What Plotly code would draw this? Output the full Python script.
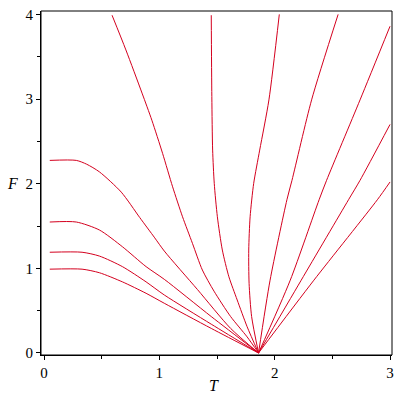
import plotly.graph_objects as go

# Curves (T, F)
A_T = [0.05, 0.28, 0.37, 0.48, 0.67, 0.83, 0.96, 1.043, 1.33, 1.618, 1.86]
A_F = [2.275, 2.275, 2.23, 2.14, 1.90, 1.60, 1.36, 1.204, 0.75, 0.29, 0.0]

B_T = [0.05, 0.28, 0.48, 0.68, 0.885, 1.043, 1.45, 1.86]
B_F = [1.547, 1.547, 1.453, 1.255, 1.02, 0.87, 0.43, 0.0]

C_T = [0.05, 0.33, 0.48, 0.68, 0.885, 1.043, 1.45, 1.86]
C_F = [1.19, 1.19, 1.145, 1.02, 0.84, 0.685, 0.34, 0.0]

D_T = [0.05, 0.33, 0.48, 0.68, 0.885, 1.043, 1.45, 1.86]
D_F = [0.99, 0.99, 0.948, 0.84, 0.705, 0.587, 0.29, 0.0]

E_T = [0.59, 0.71, 0.85, 0.935, 1.028, 1.115, 1.201, 1.287, 1.373, 1.474, 1.618, 1.761, 1.86]
E_F = [3.99, 3.58, 3.07, 2.75, 2.358, 1.963, 1.609, 1.295, 0.98, 0.73, 0.43, 0.19, 0.0]

F_T = [1.45, 1.455, 1.462, 1.476, 1.503, 1.546, 1.603, 1.675, 1.761, 1.86]
F_F = [3.99, 3.03, 2.397, 2.004, 1.609, 1.216, 0.90, 0.626, 0.31, 0.0]

G_T = [2.04, 1.95, 1.87, 1.818, 1.787, 1.775, 1.778, 1.80, 1.86]
G_F = [4.0, 2.99, 2.397, 2.004, 1.609, 1.216, 0.823, 0.43, 0.0]

H_T = [2.55, 2.32, 2.15, 2.106, 1.96, 1.86]
H_F = [4.0, 2.99, 2.04, 1.81, 0.86, 0.0]

I_T = [3.0, 2.74, 2.45, 2.385, 2.135, 1.86]
I_F = [3.86, 2.99, 2.04, 1.81, 0.86, 0.0]

J_T = [3.0, 2.74, 2.64, 2.23, 1.86]
J_F = [2.70, 2.04, 1.81, 0.86, 0.0]

K_T = [3.0, 2.89, 2.34, 1.86]
K_F = [2.02, 1.81, 0.86, 0.0]

curves = [(A_T, A_F), (B_T, B_F), (C_T, C_F), (D_T, D_F), (E_T, E_F), (F_T, F_F),
          (G_T, G_F), (H_T, H_F), (I_T, I_F), (J_T, J_F), (K_T, K_F)]

x_ticks = [0, 1, 2, 3]
y_ticks = [0, 1, 2, 3, 4]

fig = go.Figure()
for t, f in curves:
    fig.add_trace(go.Scatter(x=t, y=f, mode="lines",
                             line=dict(color="#d4001e", width=1, shape="spline", smoothing=0.7),
                             hoverinfo="skip", showlegend=False))

axis_common = dict(showline=True, linecolor="black", linewidth=1, mirror=False,
                   ticks="outside", ticklen=4, tickcolor="black", showgrid=False,
                   zeroline=False, ticklabeloverflow="allow",
                   tickfont=dict(family="Liberation Serif", size=15, color="black"),
                   minor=dict(ticks="outside", ticklen=3, dtick=0.5, tickcolor="black", showgrid=False))

fig.update_xaxes(range=[-0.026, 3.017], tickvals=x_ticks, **axis_common)
fig.update_yaxes(range=[-0.024, 4.04], tickvals=y_ticks, **axis_common)

# box frame
fig.add_shape(type="rect", xref="paper", yref="paper", x0=0, x1=1, y0=0, y1=1,
              line=dict(color="black", width=1), layer="above")

fig.add_annotation(text="<i>T</i>", xref="x", yref="paper", x=1.47, y=0, yshift=-30,
                   xanchor="center", yanchor="middle",
                   showarrow=False, font=dict(family="Liberation Serif", size=16, color="black"))
fig.add_annotation(text="<i>F</i>", xref="paper", yref="y", x=0, y=2.0, xshift=-29,
                   xanchor="center", yanchor="middle",
                   showarrow=False, font=dict(family="Liberation Serif", size=16, color="black"))

fig.update_layout(width=400, height=400, margin=dict(l=41, r=6, t=11, b=45),
                  plot_bgcolor="white", paper_bgcolor="white", hovermode=False)

fig.write_html("out.html", config={"displayModeBar": False, "staticPlot": True},
               post_script="document.body.style.margin='0px';document.body.style.overflow='hidden';")
